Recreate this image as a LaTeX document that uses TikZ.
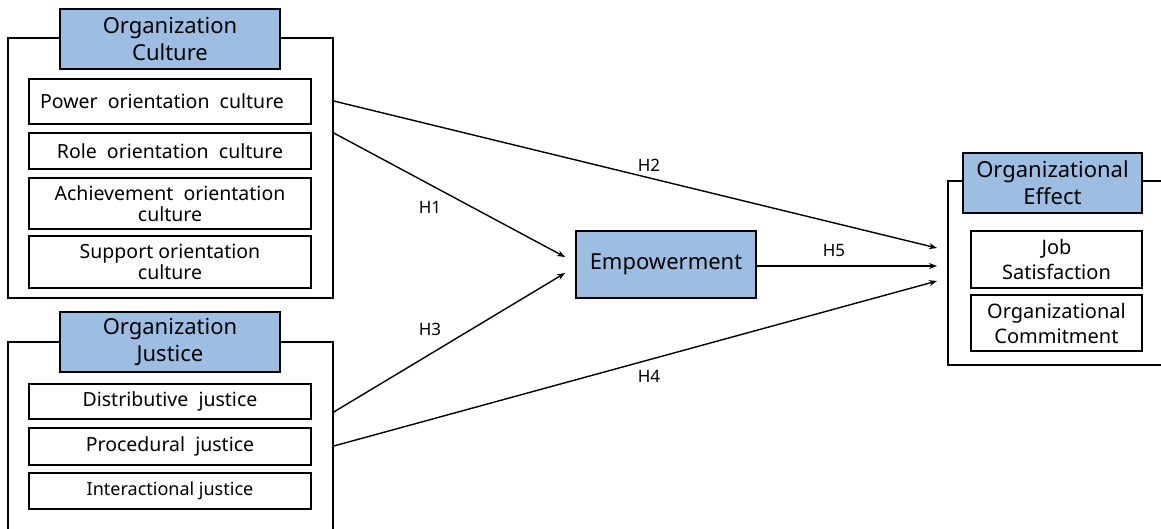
\documentclass[tikz,border=0pt]{standalone}
\usepackage{fontspec}
\setmainfont{Noto Sans}
\usetikzlibrary{arrows.meta,positioning}
\definecolor{hdrblue}{RGB}{157,190,226}
\tikzset{
  outerbox/.style={draw=black,line width=1.5pt,fill=white,inner sep=0pt},
  hdr/.style={draw=black,line width=1.8pt,fill=hdrblue,inner sep=0pt,align=center,
    font=\fontsize{22}{27}\selectfont},
  item/.style={draw=black,line width=1.6pt,fill=white,inner sep=0pt,align=center,
    minimum width=282pt,font=\fontsize{19.5}{20.5}\selectfont},
  ritem/.style={draw=black,line width=1.6pt,fill=white,inner sep=0pt,align=center,
    minimum width=171pt,font=\fontsize{20}{25}\selectfont},
  arr/.style={draw=black,line width=1.4pt,-{Stealth[length=8pt,width=6pt]}},
  lab/.style={inner sep=0pt,font=\fontsize{17}{18}\selectfont},
}
\begin{document}
\begin{tikzpicture}[x=1pt,y=-1pt]
\useasboundingbox (0,0) rectangle (1161,528);
\clip (0,0) rectangle (1161,528);
% Organization Culture
\node[outerbox,minimum width=325pt,minimum height=260pt] (oc) at (170.5,168) {};
\node[hdr,minimum width=220pt,minimum height=60pt] (ochdr) at (170,39) {Organization\\Culture};
\node[item,minimum height=45pt] (power) at (170,101.5) {\hspace*{-16pt}Power~ orientation~ culture};
\node[item,minimum height=36pt] (role) at (170,151) {Role~ orientation~ culture};
\node[item,minimum height=51pt] (achv) at (170,203.5) {Achievement~ orientation\\culture};
\node[item,minimum height=52pt] (supp) at (170,262) {Support orientation\\culture};
% Organization Justice
\node[outerbox,minimum width=325pt,minimum height=230pt] (oj) at (170.5,457) {};
\node[hdr,minimum width=220pt,minimum height=60pt] (ojhdr) at (170,342) {Organization\\Justice};
\node[item,minimum height=35pt] (dist) at (170,401.5) {Distributive~ justice};
\node[item,minimum height=37pt] (proc) at (170,446.5) {Procedural~ justice};
\node[item,minimum height=36pt,font=\fontsize{18}{20}\selectfont] (inter) at (170,491) {Interactional justice};
% Empowerment
\node[hdr,minimum width=180pt,minimum height=67pt] (emp) at (666,264.5) {Empowerment};
% Organizational Effect
\node[outerbox,minimum width=260pt,minimum height=184pt] (oe) at (1078,273) {};
\node[hdr,minimum width=179pt,minimum height=60pt] (oehdr) at (1052.5,183) {Organizational\\Effect};
\node[ritem,minimum height=57pt] (job) at (1056.5,259.5) {Job\\Satisfaction};
\node[ritem,minimum height=56pt] (comm) at (1056.5,323) {Organizational\\Commitment};
% target points near the effect box
\coordinate (t2) at (937,248);
\coordinate (t5) at (937,266);
\coordinate (t4) at (937,281);
% connectors
\draw[arr] ([yshift=67pt]oc.east) -- (t2);
\draw[arr] ([yshift=35pt]oc.east) -- ([xshift=-10pt,yshift=7.5pt]emp.west);
\draw[arr] ([yshift=45pt]oj.east) -- ([xshift=-10pt,yshift=-8.5pt]emp.west);
\draw[arr] ([yshift=11pt]oj.east) -- (t4);
\draw[arr] (emp.east |- t5) -- (t5);
% labels
\node[lab] (h1) at (430,207) {H1};
\node[lab] (h2) at (649,165) {H2};
\node[lab] (h3) at (430,329) {H3};
\node[lab] (h4) at (649,376) {H4};
\node[lab] (h5) at (834,251) {H5};
\end{tikzpicture}
\end{document}
